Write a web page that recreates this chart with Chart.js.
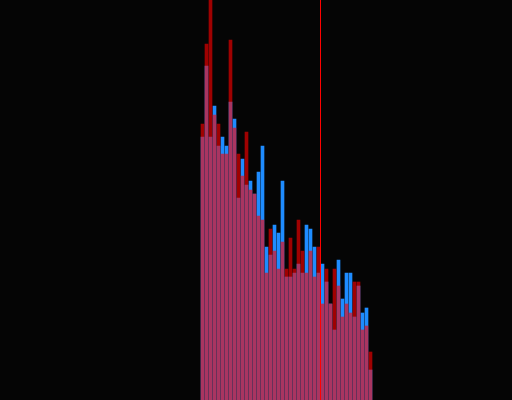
<!DOCTYPE html>
<html>
<head>
<meta charset="utf-8">
<script src="https://cdn.jsdelivr.net/npm/chart.js@4"></script>
<style>
  html, body { margin: 0; padding: 0; background: #050505; }
  #wrap { width: 512px; height: 400px; position: relative; }
</style>
</head>
<body>
<div id="wrap"><canvas id="c" width="512" height="400"></canvas></div>
<script>
// bin index for each bar
const bins = Array.from({length: 43}, (_, i) => i);
// series values (height units, axis 0..400)
const blueValues = [263,334,263,294,254,263,254,298,281,202,241,215,219,206,228,254,153,145,175,167,219,123,123,127,136,127,175,171,153,127,136,118,96,70,140,101,127,127,83,114,87,92,30];
const redValues  = [276,356,405,285,276,246,246,360,272,246,224,268,210,206,184,180,127,171,149,131,158,131,162,131,180,149,127,149,123,153,96,131,96,131,114,83,96,87,118,118,70,74,48];
// marker line position (bin edge)
const markerX = 29.5;
const yRange = [0, 400];

const toPts = vals => vals.map((v, i) => ({x: bins[i], y: v}));

new Chart(document.getElementById('c'), {
  type: 'bar',
  data: {
    datasets: [
      {
        type: 'line',
        data: [{x: markerX, y: yRange[0]}, {x: markerX, y: yRange[1]}],
        borderColor: 'rgb(255,0,0)',
        borderWidth: 1,
        pointRadius: 0,
        order: 0
      },
      {
        data: toPts(redValues),
        backgroundColor: 'rgba(255,0,0,0.62)',
        borderWidth: 0,
        barThickness: 3,
        order: 1
      },
      {
        data: toPts(blueValues),
        backgroundColor: 'rgb(30,140,255)',
        borderWidth: 0,
        barThickness: 3,
        order: 2
      }
    ]
  },
  options: {
    responsive: false,
    animation: false,
    grouped: false,
    layout: { padding: 0 },
    plugins: { legend: { display: false }, tooltip: { enabled: false } },
    scales: {
      x: { type: 'linear', min: -50.625, max: 77.375, display: false, offset: false },
      y: { min: yRange[0], max: yRange[1], display: false }
    }
  }
});
</script>
</body>
</html>
